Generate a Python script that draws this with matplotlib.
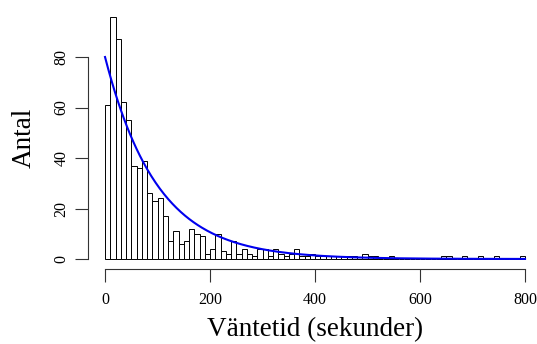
import numpy as np
import matplotlib
matplotlib.use('Agg')
from matplotlib import pyplot

# waiting times, 10 second bins from 0 to 800
bin_edges = list(range(0, 810, 10))
counts = [
    61, 96, 87, 62, 55, 37, 36, 39, 26, 23,
    24, 17, 7, 11, 6, 7, 12, 10, 9, 2,
    4, 10, 3, 2, 7, 2, 4, 2, 1, 4,
    4, 1, 4, 2, 1, 2, 4, 1, 1, 2,
    1, 1, 0, 1, 1, 1, 1, 1, 0, 2,
    1, 1, 0, 0, 1, 0, 0, 0, 0, 0,
    0, 0, 0, 0, 1, 1, 0, 0, 1, 0,
    0, 1, 0, 0, 1, 0, 0, 0, 0, 1,
]
x_ticks = [0, 200, 400, 600, 800]
y_ticks = [0, 20, 40, 60, 80]

# fitted exponential curve
curve_start = 80.0
curve_rate = 0.0101


def main():
    pyplot.rcParams['font.family'] = ['Liberation Serif', 'DejaVu Serif']

    fig = pyplot.figure(figsize=(5.37, 3.44), dpi=100)
    ax = fig.add_axes([0.1643, 0.2189, 0.8447, 0.761])

    edges = np.array(bin_edges)
    ax.bar(edges[:-1], counts, width=np.diff(edges), align='edge',
           facecolor='white', edgecolor='black', linewidth=0.7)

    xs = np.linspace(0, 800, 400)
    ax.plot(xs, curve_start * np.exp(-curve_rate * xs), color='#0000ee', linewidth=1.5)

    ax.set_xlim(-32, 832)
    ax.set_ylim(-3.84, 99.84)

    for side in ['top', 'right']:
        ax.spines[side].set_visible(False)
    ax.spines['left'].set_bounds(0, 80)
    ax.spines['bottom'].set_bounds(0, 800)
    for side in ['left', 'bottom']:
        ax.spines[side].set_color('#333333')
        ax.spines[side].set_linewidth(0.8)

    ax.set_xticks(x_ticks)
    ax.set_yticks(y_ticks)
    ax.set_yticklabels([str(t) for t in y_ticks], rotation=90, va='center')
    ax.tick_params(length=9.5, width=0.8, color='#333333', labelsize=11.5)
    ax.tick_params(axis='x', pad=7)
    ax.tick_params(axis='y', pad=4)

    ax.set_xlabel('Väntetid (sekunder)', fontsize=19.5, labelpad=7)
    ax.set_ylabel('Antal', fontsize=19.5, labelpad=12)

    fig.savefig('out.png', dpi=100)


if __name__ == '__main__':
    main()
